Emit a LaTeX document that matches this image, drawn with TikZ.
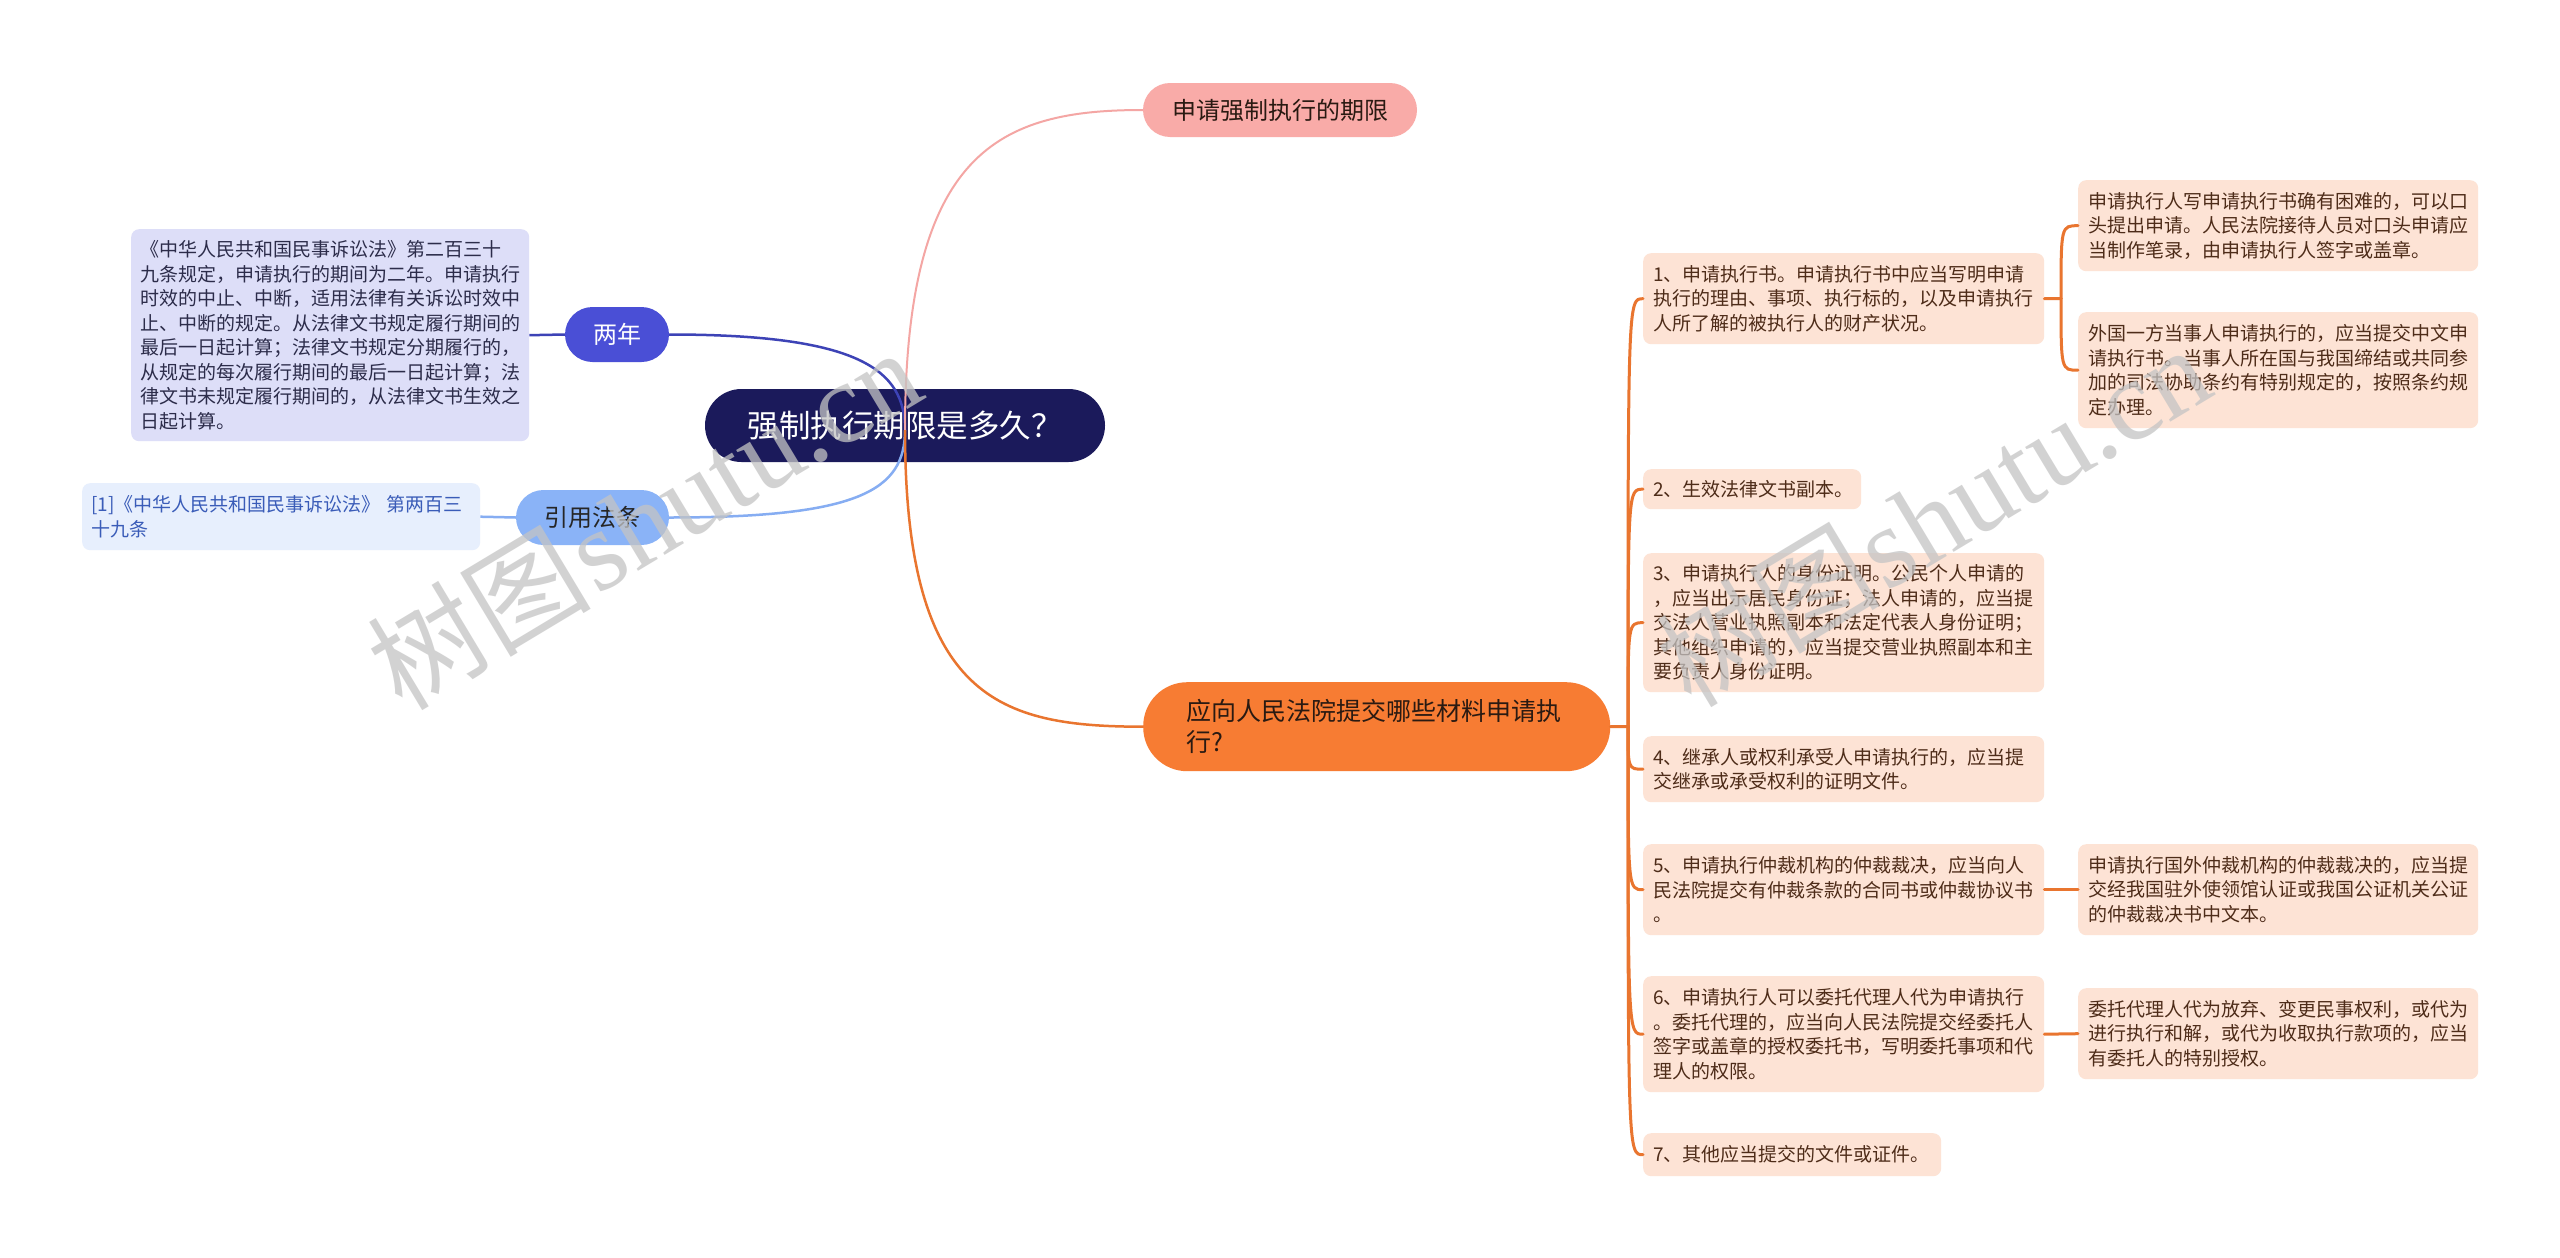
\documentclass[tikz,border=0pt]{standalone}
\usepackage{fontspec}
\newfontfamily\cjk{Noto Sans CJK SC}
\newfontfamily\wmlatin{Liberation Serif}
\definecolor{navy}{HTML}{1B1A5B}
\definecolor{twoyrc}{HTML}{4A4FD6}
\definecolor{citec}{HTML}{8AB3F7}
\definecolor{lavc}{HTML}{DDDEF8}
\definecolor{lavtext}{HTML}{2C2C4A}
\definecolor{citebg}{HTML}{E7EFFD}
\definecolor{citetext}{HTML}{3A5CB8}
\definecolor{pinkc}{HTML}{F9ABA8}
\definecolor{pinkline}{HTML}{F4A6A4}
\definecolor{orangec}{HTML}{F77C33}
\definecolor{orangeline}{HTML}{E9752F}
\definecolor{peachc}{HTML}{FDE3D5}
\definecolor{peachtext}{HTML}{4E2C19}
\definecolor{darktext}{HTML}{2A1A12}
\definecolor{blueline}{HTML}{3D43B6}
\definecolor{lblueline}{HTML}{86ADF2}
\definecolor{wmgray}{HTML}{C4C4C4}
\tikzset{
  txt/.style={font=\cjk\fontsize{19}{24.5}\selectfont, align=left, inner ysep=0pt, inner xsep=10pt, anchor=north west, rounded corners=8pt},
  peach/.style={txt, fill=peachc, text=peachtext},
  pill/.style={rounded corners=#1, inner sep=0pt, align=center},
  conn/.style={line width=3pt, orangeline, line cap=round},
  wm/.style={text=wmgray, opacity=0.75, inner sep=0pt}
}
\begin{document}
\begin{tikzpicture}[x=1pt,y=-1pt]
\useasboundingbox (0,0) rectangle (2560,1258);
\fill[white] (0,0) rectangle (2560,1258);

% left side
\node[txt, fill=lavc, text=lavtext, inner xsep=9pt, minimum width=398pt, minimum height=212pt, text width=380pt] (lav) at (131,229)
{《中华人民共和国民事诉讼法》第二百三十\\九条规定，申请执行的期间为二年。申请执行\\时效的中止、中断，适用法律有关诉讼时效中\\止、中断的规定。从法律文书规定履行期间的\\最后一日起计算；法律文书规定分期履行的，\\从规定的每次履行期间的最后一日起计算；法\\律文书未规定履行期间的，从法律文书生效之\\日起计算。};
\node[txt, fill=citebg, text=citetext, inner xsep=9pt, minimum width=398pt, minimum height=67pt, text width=380pt] (citebox) at (82,483)
{[1]《中华人民共和国民事诉讼法》 第两百三\\十九条};
\node[pill=27.5pt, fill=twoyrc, text=white, minimum width=104pt, minimum height=55pt, font=\cjk\fontsize{24}{28}\selectfont] (twoyr) at (617,334.5) {两年};
\node[pill=27.5pt, fill=citec, text=black!85, minimum width=153pt, minimum height=55pt, font=\cjk\fontsize{24}{28}\selectfont] (citen) at (592.5,517.5) {引用法条};

% centre and first level right
\node[pill=36.5pt, fill=navy, text=white, minimum width=400pt, minimum height=73pt, font=\cjk\fontsize{31.5}{34}\selectfont] (root) at (905,425.5) {强制执行期限是多久？};
\node[pill=27pt, fill=pinkc, text=darktext, minimum width=274pt, minimum height=54pt, font=\cjk\fontsize{24}{28}\selectfont] (pinkn) at (1280,110) {申请强制执行的期限};
\node[txt, rounded corners=44pt, fill=orangec, text=darktext, inner xsep=43pt, minimum width=467pt, minimum height=89pt, text width=381pt, font=\cjk\fontsize{25}{31}\selectfont] (orange) at (1143,682)
{应向人民法院提交哪些材料申请执\\行?};

% second level right
\node[peach, minimum width=401pt, minimum height=91pt, text width=381pt] (b1) at (1643,253)
{1、申请执行书。申请执行书中应当写明申请\\执行的理由、事项、执行标的，以及申请执行\\人所了解的被执行人的财产状况。};
\node[peach, minimum width=218pt, minimum height=40pt, text width=198pt] (b2) at (1643,469)
{2、生效法律文书副本。};
\node[peach, minimum width=401pt, minimum height=139pt, text width=381pt] (b3) at (1643,553)
{3、申请执行人的身份证明。公民个人申请的\\，应当出示居民身份证；法人申请的，应当提\\交法人营业执照副本和法定代表人身份证明；\\其他组织申请的，应当提交营业执照副本和主\\要负责人身份证明。};
\node[peach, minimum width=401pt, minimum height=66pt, text width=381pt] (b4) at (1643,736)
{4、继承人或权利承受人申请执行的，应当提\\交继承或承受权利的证明文件。};
\node[peach, minimum width=401pt, minimum height=91pt, text width=381pt] (b5) at (1643,844)
{5、申请执行仲裁机构的仲裁裁决，应当向人\\民法院提交有仲裁条款的合同书或仲裁协议书\\。};
\node[peach, minimum width=401pt, minimum height=116pt, text width=381pt] (b6) at (1643,976)
{6、申请执行人可以委托代理人代为申请执行\\。委托代理的，应当向人民法院提交经委托人\\签字或盖章的授权委托书，写明委托事项和代\\理人的权限。};
\node[peach, minimum width=298pt, minimum height=43pt, text width=278pt] (b7) at (1643,1133)
{7、其他应当提交的文件或证件。};

% third level
\node[peach, minimum width=400pt, minimum height=91pt, text width=380pt] (s1a) at (2078,180)
{申请执行人写申请执行书确有困难的，可以口\\头提出申请。人民法院接待人员对口头申请应\\当制作笔录，由申请执行人签字或盖章。};
\node[peach, minimum width=400pt, minimum height=116pt, text width=380pt] (s1b) at (2078,312)
{外国一方当事人申请执行的，应当提交中文申\\请执行书。当事人所在国与我国缔结或共同参\\加的司法协助条约有特别规定的，按照条约规\\定办理。};
\node[peach, minimum width=400pt, minimum height=91pt, text width=380pt] (s5a) at (2078,844)
{申请执行国外仲裁机构的仲裁裁决的，应当提\\交经我国驻外使领馆认证或我国公证机关公证\\的仲裁裁决书中文本。};
\node[peach, minimum width=400pt, minimum height=91pt, text width=380pt] (s6a) at (2078,988)
{委托代理人代为放弃、变更民事权利，或代为\\进行执行和解，或代为收取执行款项的，应当\\有委托人的特别授权。};

% connectors
\coordinate (hub) at (905,430);
\draw[line width=2.5pt, blueline] (lav.east) -- (twoyr.west);
\draw[line width=2.5pt, lblueline] (citebox.east) -- (citen.west);
\draw[line width=2.5pt, blueline] (twoyr.east) .. controls (860,334.5) and (905,370) .. (hub);
\draw[line width=2.5pt, lblueline] (citen.east) .. controls (860,517.5) and (905,490) .. (hub);
\draw[line width=2pt, pinkline] (hub) .. controls (905,150) and (1000,110) .. (pinkn.west);
\draw[line width=2.5pt, orangeline] (hub) .. controls (905,700) and (1000,726.5) .. (orange.west);

\coordinate (trunk) at (1628,726.5);
\draw[conn] (orange.east) -- (trunk);
\foreach \b in {b1,b2,b3,b4,b5,b6,b7}
  \draw[conn] (trunk) .. controls (trunk |- \b.west) .. (\b.west);

\coordinate (j1) at (2061,298.5);
\draw[conn] (b1.east) -- (j1);
\draw[conn] (j1) .. controls (j1 |- s1a.west) .. (s1a.west);
\draw[conn] (j1) .. controls (j1 |- s1b.west) .. (s1b.west);
\draw[conn] (b5.east) -- (s5a.west);
\draw[conn] (b6.east) -- (s6a.west);

% watermarks
\node[wm, rotate=31] (wm1) at (644,518) {{\cjk\fontsize{112}{112}\selectfont 树图} {\wmlatin\fontsize{115}{115}\selectfont shutu.cn}};
\node[wm, rotate=31] (wm2) at (1933,515) {{\cjk\fontsize{112}{112}\selectfont 树图} {\wmlatin\fontsize{115}{115}\selectfont shutu.cn}};
\end{tikzpicture}
\end{document}
